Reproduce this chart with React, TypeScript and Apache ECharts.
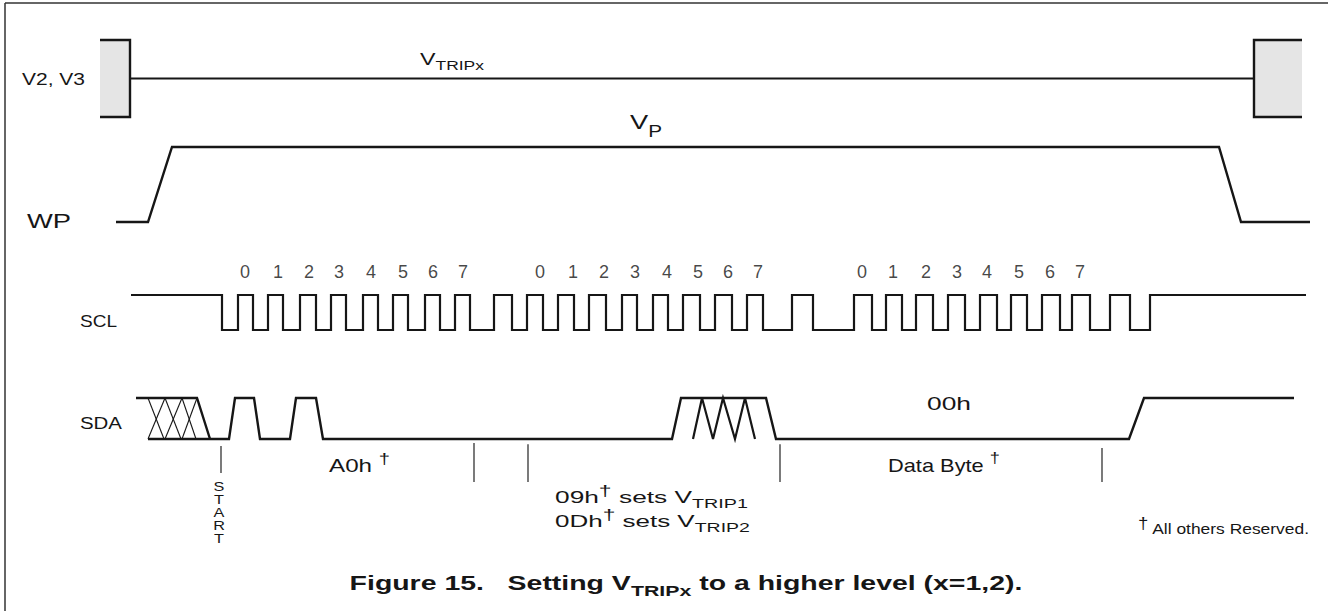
import React, { useEffect, useRef } from 'react';
import * as echarts from 'echarts';

const FONT = '"Liberation Sans", Arial, Helvetica, sans-serif';
const INK = '#161616';
const W = 1328;
const H = 611;

// ---- signal data (x = time in drawing units, y = logic level 0..1) ----
const V_LEFT_BOX = [[100, 1], [130, 1], [130, 0], [100, 0]];
const V_TRIP_LINE = [[130, 0.5], [1254, 0.5]];
const V_RIGHT_BOX = [[1302, 1], [1254, 1], [1254, 0], [1302, 0]];
const V_SHADED = [[100, 130], [1254, 1302]];

const WP_WAVE = [[116, 0], [148, 0], [172, 1], [1219, 1], [1241, 0], [1310, 0]];

const SCL_START = 131;
const SCL_END = 1306;
const SCL_EDGES = [
  222, 238, 253, 268, 283, 300, 316, 331, 346, 363, 378, 393, 408, 425, 440, 455, 470,
  494, 512,
  527, 543, 558, 574, 589, 606, 622, 637, 653, 668, 683, 700, 715, 732, 747, 763,
  792, 813,
  854, 872, 886, 902, 916, 933, 948, 965, 980, 997, 1011, 1027, 1042, 1060, 1072, 1090,
  1110, 1130, 1150,
];

const BIT_X = [
  245, 278, 309, 339, 371, 403, 433, 463,
  540, 573, 604, 635, 667, 698, 728, 758,
  862, 893, 926, 957, 987, 1019, 1050, 1080,
];
const BIT_NAMES = ['0', '1', '2', '3', '4', '5', '6', '7'];

const SDA_UNKNOWN_EDGE = [[136, 1], [197, 1], [210, 0]];
const SDA_WAVE = [
  [148, 0], [229, 0], [235, 1], [254, 1], [260, 0], [290, 0], [296, 1], [316, 1], [323, 0],
  [672, 0], [681, 1], [766, 1], [776, 0], [1129, 0], [1144, 1], [1294, 1],
];
const SDA_HATCH = [
  [[148, 1], [164, 0]], [[148, 0], [165, 1]],
  [[165, 1], [181, 0]], [[165, 0], [182, 1]],
  [[182, 1], [196, 0]], [[182, 0], [197, 1]],
];
const SDA_ZIGZAG = [[693, 0], [702, 1], [713, 0], [723, 1], [735, 0], [745, 1], [755, 0]];

// boundary markers: [x, bottom, top] (0..1 within marker lane)
const BOUNDARIES = [[221, 0.23, 0.92], [474, 0, 1], [528, 0, 0.97], [780, 0, 0.97], [1102, 0, 0.87]];

// texts
const START_LETTERS = ['S', 'T', 'A', 'R', 'T'];
const CAPTION_A = 'Figure 15.   Setting V';
const CAPTION_SUB = 'TRIPx';
const CAPTION_B = ' to a higher level (x=1,2).';

// lanes: top / height of each signal row
const LANES = [
  { top: 40, height: 77 },
  { top: 147, height: 75 },
  { top: 295, height: 35 },
  { top: 398, height: 41 },
  { top: 443, height: 39 },
];

function sclPoints() {
  const pts: number[][] = [[SCL_START, 1]];
  let level = 1;
  for (const e of SCL_EDGES) {
    pts.push([e, level]);
    level = 1 - level;
    pts.push([e, level]);
  }
  pts.push([SCL_END, level]);
  return pts;
}

function line(lane: number, data: any[], width = 2.2, extra: any = {}) {
  return {
    type: 'line',
    xAxisIndex: lane,
    yAxisIndex: lane,
    data,
    symbol: 'none',
    silent: true,
    clip: false,
    z: 3,
    lineStyle: { color: INK, width, join: 'miter', cap: 'butt' },
    ...extra,
  };
}

let measureCtx: CanvasRenderingContext2D | null = null;
function measure(segs: [string, number, boolean?][]) {
  if (!measureCtx) measureCtx = document.createElement('canvas').getContext('2d');
  let w = 0;
  for (const [t, s, b] of segs) {
    measureCtx!.font = `${b ? 'bold ' : ''}${s}px ${FONT}`;
    w += measureCtx!.measureText(t).width;
  }
  return w;
}

const supS = (size: number) => ({ fontSize: size, fontFamily: FONT, fill: INK, color: INK, verticalAlign: 'top', lineHeight: size });
const subS = (size: number, bold = false) => ({
  fontSize: size, fontFamily: FONT, fill: INK, color: INK, fontWeight: bold ? 'bold' : 'normal', verticalAlign: 'bottom', lineHeight: size,
});

// text element stretched horizontally to span `width` px
function txt(x: number, y: number, text: string, size: number, width: number | null, segs: [string, number, boolean?][], opts: any = {}) {
  const natural = measure(segs);
  const sx = width ? width / natural : opts.sx || 1;
  return {
    type: 'text',
    x,
    y,
    scaleX: sx,
    silent: true,
    z: 10,
    style: {
      text,
      fill: INK,
      fontFamily: FONT,
      fontSize: size,
      fontWeight: opts.bold ? 'bold' : 'normal',
      align: opts.align || 'left',
      verticalAlign: 'middle',
      lineHeight: opts.lh || size,
      rich: opts.rich,
    },
  };
}

export default function App() {
  const ref = useRef<HTMLDivElement>(null);
  useEffect(() => {
    if (!ref.current) return;
    const chart = echarts.init(ref.current, null, { renderer: 'svg' });

    const grids = LANES.map((l) => ({ left: 0, right: 0, top: l.top, height: l.height, containLabel: false }));
    const xAxes = LANES.map((_, i) => ({ type: 'value', gridIndex: i, min: 0, max: W, show: false }));
    const yAxes = LANES.map((_, i) => ({ type: 'value', gridIndex: i, min: 0, max: 1, show: false }));

    const series: any[] = [];
    series.push({
      type: 'line', xAxisIndex: 0, yAxisIndex: 0, data: [], symbol: 'none', silent: true, z: 1,
      markArea: {
        silent: true,
        itemStyle: { color: '#e5e5e5' },
        data: V_SHADED.map(([a, b]) => [{ coord: [a, 0] }, { coord: [b, 1] }]),
      },
    });
    series.push(line(0, V_LEFT_BOX, 2.4));
    series.push(line(0, V_TRIP_LINE, 2));
    series.push(line(0, V_RIGHT_BOX, 2.4));
    series.push(line(1, WP_WAVE, 2.4));
    series.push(line(2, sclPoints(), 2.2));
    series.push(line(3, SDA_UNKNOWN_EDGE, 2.4));
    series.push(line(3, SDA_WAVE, 2.4));
    SDA_HATCH.forEach((seg) => series.push(line(3, seg, 1.1)));
    series.push(line(3, SDA_ZIGZAG, 2.2));
    BOUNDARIES.forEach(([x, b, t]) => series.push(line(4, [[x, b], [x, t]], 1.3, { lineStyle: { color: '#333', width: 1.3 } })));
    series.push({
      type: 'scatter', xAxisIndex: 2, yAxisIndex: 2, symbolSize: 0, silent: true, z: 5,
      data: BIT_X.map((x, i) => [x, 1, BIT_NAMES[i % 8]]),
      label: {
        show: true, position: 'inside', offset: [0, -23],
        formatter: (p: any) => p.value[2], color: INK, fontSize: 18, fontFamily: FONT,
      },
    });

    const dag = (s: number) => ({ u: supS(s) });
    const graphic: any[] = [
      { type: 'line', silent: true, shape: { x1: 5, y1: 3, x2: W, y2: 3 }, style: { stroke: '#333', lineWidth: 1.5 } },
      { type: 'line', silent: true, shape: { x1: 5, y1: 3, x2: 5, y2: H }, style: { stroke: '#333', lineWidth: 1.5 } },
      txt(22, 79, 'V2, V3', 16, 63, [['V2, V3', 16]]),
      txt(420, 59, 'V{s|TRIPx}', 16, 64, [['V', 16], ['TRIPx', 12]], { lh: 26, rich: { s: subS(12) } }),
      txt(630, 122, 'V{s|P}', 21, 32, [['V', 21], ['P', 16]], { lh: 34, rich: { s: subS(16) } }),
      txt(27, 221, 'WP', 20, 44, [['WP', 20]]),
      txt(80, 322, 'SCL', 16, 37, [['SCL', 16]]),
      txt(80, 423, 'SDA', 16, 42, [['SDA', 16]]),
      txt(927, 404, '00h', 18, 44, [['00h', 18]]),
      txt(329, 466, 'A0h {u|†}', 18, 61, [['A0h ', 18], ['†', 15]], { lh: 30, rich: dag(15) }),
      txt(555, 497, '09h{u|†} sets V{s|TRIP1}', 16, 193, [['09h', 16], ['†', 14], [' sets V', 16], ['TRIP1', 12]],
        { lh: 26, rich: { ...dag(14), s: subS(12) } }),
      txt(555, 521, '0Dh{u|†} sets V{s|TRIP2}', 16, 195, [['0Dh', 16], ['†', 14], [' sets V', 16], ['TRIP2', 12]],
        { lh: 26, rich: { ...dag(14), s: subS(12) } }),
      txt(888, 466, 'Data Byte {u|†}', 18, 112, [['Data Byte ', 18], ['†', 15]], { lh: 30, rich: dag(15) }),
      txt(1138, 528, '{u|†} All others Reserved.', 15, 172, [['†', 16], [' All others Reserved.', 15]], { lh: 26, rich: dag(16) }),
      ...START_LETTERS.map((c, i) => txt(219, 487 + i * 13, c, 13, null, [[c, 13]], { align: 'center', sx: 1.25 })),
      txt(686, 583, `{b|${CAPTION_A}}{s|${CAPTION_SUB}}{b|${CAPTION_B}}`, 20, 673,
        [[CAPTION_A, 20, true], [CAPTION_SUB, 15, true], [CAPTION_B, 20, true]], {
          align: 'center', bold: true, lh: 30,
          rich: {
            b: { fontSize: 20, fontFamily: FONT, fontWeight: 'bold', fill: INK, lineHeight: 30 },
            s: subS(15, true),
          },
        }),
    ];

    chart.setOption({
      animation: false,
      backgroundColor: '#ffffff',
      grid: grids,
      xAxis: xAxes,
      yAxis: yAxes,
      series,
      graphic,
    });
    return () => chart.dispose();
  }, []);
  return (
    <div
      ref={ref}
      style={{ position: 'fixed', left: 0, top: 0, width: W, height: H, background: '#fff' }}
    />
  );
}
